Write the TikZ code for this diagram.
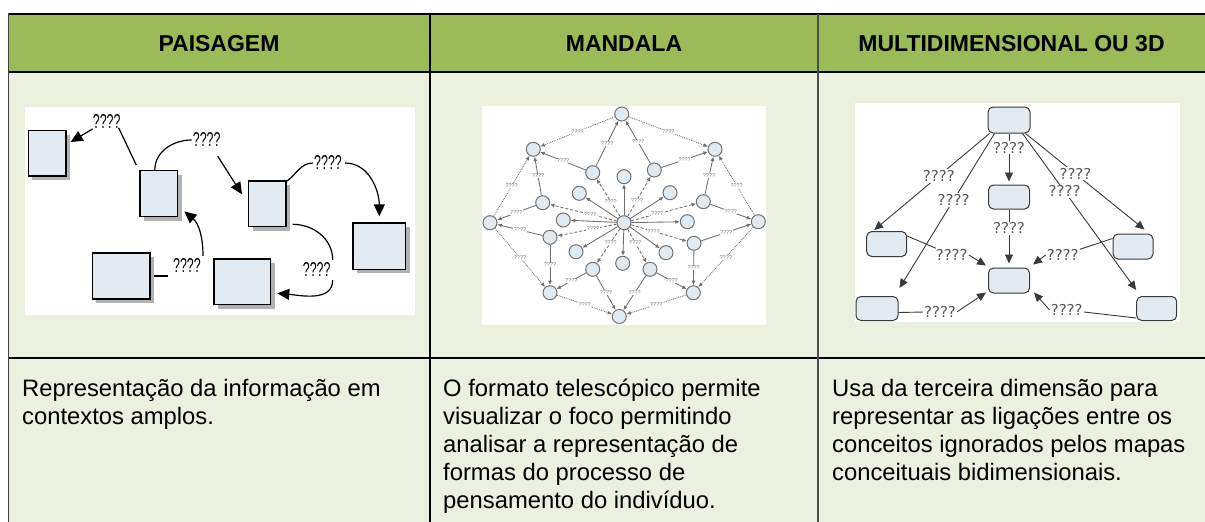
\documentclass[tikz,border=0pt]{standalone}
\usepackage{fontspec}
\setmainfont{Liberation Sans}
\newfontfamily\djv{DejaVu Sans}
\usetikzlibrary{arrows.meta,shadows}
\definecolor{hdrgreen}{HTML}{9BBB59}
\definecolor{cellgreen}{HTML}{EBF1DE}
\definecolor{boxblue}{HTML}{E3EBF2}
\definecolor{mandfill}{HTML}{E0EAF0}
\definecolor{mandline}{HTML}{6E6E6E}
\definecolor{dline}{HTML}{3A3A3A}
\begin{document}
\begin{tikzpicture}[x=1pt,y=-1pt,
  hdrtext/.style={font=\fontsize{23}{26}\selectfont\bfseries, inner sep=0pt},
  bodytext/.style={font=\fontsize{23.8}{27.9}\selectfont, anchor=north west, align=left, inner sep=0pt},
  pbox/.style={draw=black, line width=1.3pt, fill=boxblue, inner sep=0pt,
     drop shadow={shadow xshift=4pt, shadow yshift=-4pt, fill=black!30, opacity=1}},
  plab/.style={inner sep=1pt, font=\fontsize{20}{20}\selectfont},
  parrow/.style={-{Triangle[length=12pt,width=11pt]}, line width=1.2pt},
  pline/.style={line width=1.2pt},
  dbox/.style={draw=dline, line width=1pt, fill=boxblue, rounded corners=5pt, inner sep=0pt},
  dlab/.style={font=\djv\fontsize{15}{15}\selectfont, text=black!65, fill=white, inner sep=1pt},
  darrow/.style={-{Triangle[length=9pt,width=8pt]}, line width=0.9pt, draw=dline},
  dline/.style={line width=0.9pt, draw=dline},
  mnode/.style={circle, draw=black!55, fill=mandfill, line width=1pt, minimum size=14pt, inner sep=0pt},
  mlab/.style={font=\fontsize{5.5}{6}\selectfont, text=black!55, inner sep=0.5pt, fill=white},
  marrow/.style={-{Latex[length=4.5pt,width=4pt]}, draw=mandline, line width=0.85pt},
  mdash/.style={marrow, dashed, dash pattern=on 3pt off 2pt},
  mdot/.style={marrow, densely dotted}
]
\useasboundingbox (0,0) rectangle (1205,522);
\fill[white] (0,0) rectangle (1205,522);
% table
\fill[hdrgreen] (8,14) rectangle (1205,72);
\fill[cellgreen] (8,72) rectangle (1205,522);
\draw[line width=2pt] (8,14) -- (1205,14);
\draw[line width=2pt] (8,72) -- (1205,72);
\draw[line width=2pt] (8,358.3) -- (1205,358.3);
\draw[line width=1.5pt, black!75] (8.5,13) -- (8.5,522);
\draw[line width=1.5pt] (430,14) -- (430,522);
\draw[line width=1.5pt, black!70] (818,14) -- (818,522);
% headers
\node[hdrtext] (h1) at (219,43.5) {PAISAGEM};
\node[hdrtext] (h2) at (624,43.5) {MANDALA};
\node[hdrtext] (h3) at (1011.5,43.5) {MULTIDIMENSIONAL OU 3D};
% body texts
\node[bodytext] (t1) at (22,377.2) {\strut Representação da informação em\\contextos amplos.};
\node[bodytext] (t2) at (443,377.2) {\strut O formato telescópico permite\\visualizar o foco permitindo\\analisar a representação de\\formas do processo de\\pensamento do indivíduo.};
\node[bodytext] (t3) at (832,377.2) {\strut Usa da terceira dimensão para\\representar as ligações entre os\\conceitos ignorados pelos mapas\\conceituais bidimensionais.};

% ================= PAISAGEM =================
\fill[white] (25,107) rectangle (415,315);
\node[pbox, minimum width=37.7pt, minimum height=45.3pt] (p1) at (47.2,153.3) {};
\node[pbox, minimum width=37.7pt, minimum height=46pt] (p2) at (158.8,193.7) {};
\node[pbox, minimum width=37.3pt, minimum height=45.7pt] (p3) at (267.3,203.8) {};
\node[pbox, minimum width=52.7pt, minimum height=46.3pt] (p4) at (379.3,246.2) {};
\node[pbox, minimum width=57.7pt, minimum height=46pt] (p5) at (121.2,276) {};
\node[pbox, minimum width=56.7pt, minimum height=45.7pt] (p6) at (242.3,281.8) {};
\node[plab] (q1) at (106.7,121.7) {\scalebox{0.62}[1]{????}};
\node[plab] (q2) at (206.7,140) {\scalebox{0.62}[1]{????}};
\node[plab] (q3) at (328,163) {\scalebox{0.62}[1]{????}};
\node[plab] (q4) at (187,266) {\scalebox{0.62}[1]{????}};
\node[plab] (q5) at (316.7,270) {\scalebox{0.62}[1]{????}};
\coordinate (q4a) at (168,276);
\draw[pline] ([xshift=-3pt,yshift=5pt]p2.north west) -- ([xshift=-3pt,yshift=2pt]q1.south east);
\draw[parrow] ([xshift=1pt,yshift=1pt]q1.south west) -- ([xshift=4pt,yshift=-12pt]p1.north east);
\draw[pline] ([xshift=-4pt]p2.north) to[out=90,in=180] (q2.west);
\draw[parrow] ([xshift=-4pt,yshift=-8pt]q2.south east) -- ([xshift=-6pt,yshift=-14pt]p3.north west);
\draw[pline] ([yshift=-1pt]p3.north east) to[out=35,in=180] (q3.west);
\draw[parrow] ([xshift=2pt]q3.east) to[out=0,in=90] ([yshift=6pt]p4.north);
\draw[pline] ([xshift=3pt]p5.east) -- (q4a);
\draw[parrow] ([xshift=16pt,yshift=2pt]q4.north) to[out=90,in=-40] ([xshift=6pt,yshift=6pt]p2.south east);
\draw[pline] ([xshift=6pt,yshift=3pt]p3.south east) to[out=0,in=90] ([xshift=1pt,yshift=2pt]q5.north east);
\draw[parrow] ([xshift=1pt,yshift=-2pt]q5.south east) to[out=-90,in=-5] ([xshift=6pt,yshift=-11.5pt]p6.east);

% ================= MANDALA =================
\fill[white] (481.7,106) rectangle (766,325);
\node[mnode] (mC) at (624,222.7) {};
\node[mnode] (mT) at (621.7,114) {};
\node[mnode] (mB) at (619.3,316.5) {};
\node[mnode] (mL) at (490,222.7) {};
\node[mnode] (mR) at (758.3,221.7) {};
\node[mnode] (mTL) at (533.3,149.3) {};
\node[mnode] (mTR) at (715,149.3) {};
\node[mnode] (mBL) at (550,292.7) {};
\node[mnode] (mBR) at (693.3,292.7) {};
\node[mnode] (i1) at (592.7,172.7) {};
\node[mnode] (i2) at (654.3,170) {};
\node[mnode] (i3) at (542.7,202.7) {};
\node[mnode] (i4) at (703.3,201.7) {};
\node[mnode] (i5) at (550,237.3) {};
\node[mnode] (i6) at (694,243.3) {};
\node[mnode] (i7) at (592.7,269.3) {};
\node[mnode] (i8) at (650,269.3) {};
\node[mnode] (f1) at (624,176.7) {};
\node[mnode] (f2) at (579.3,193.3) {};
\node[mnode] (f3) at (670,192.7) {};
\node[mnode] (f4) at (563.3,220) {};
\node[mnode] (f5) at (687.3,221.7) {};
\node[mnode] (f6) at (576,251.7) {};
\node[mnode] (f7) at (666,252.7) {};
\node[mnode] (f8) at (622.7,263.3) {};
\foreach \n in {f1,f2,f3,f4,f5,f6,f7,f8}
  \draw[marrow] (mC) -- (\n);
\foreach \n in {i1,i2,i3,i4,i5,i6,i7,i8}
  \draw[mdash] (mC) -- node[mlab, pos=0.4]{????} (\n);
\foreach \a/\b in {i1/mT,i1/mTL,i2/mT,i2/mTR,i3/mTL,i3/mL,i4/mTR,i4/mR,i5/mL,i5/mBL,i6/mR,i6/mBR,i7/mBL,i7/mB,i8/mB,i8/mBR}
  \draw[marrow] (\a) -- node[mlab]{????} (\b);
\foreach \a/\b in {mT/mTL,mT/mTR,mL/mTL,mR/mTR,mL/mBL,mR/mBR,mBL/mB,mBR/mB}
  \draw[mdot] (\a) -- node[mlab]{????} (\b);

% ================= 3D =================
\fill[white] (855,103) rectangle (1180,322);
\node[dbox, minimum width=42pt, minimum height=26pt] (d1) at (1009,120) {};
\node[dbox, minimum width=41pt, minimum height=24pt] (d2) at (1009,197) {};
\node[dbox, minimum width=41pt, minimum height=25pt] (d3) at (1009,280.5) {};
\node[dbox, minimum width=40pt, minimum height=25pt] (d4) at (886.7,244) {};
\node[dbox, minimum width=40pt, minimum height=25pt] (d5) at (1133,246.5) {};
\node[dbox, minimum width=42pt, minimum height=24pt] (d6) at (877,308.5) {};
\node[dbox, minimum width=40pt, minimum height=24pt] (d7) at (1156.7,308.5) {};
\draw[darrow] ([xshift=2pt]d1.south west) -- node[dlab, pos=0.44]{????} ([xshift=8pt,yshift=1pt]d4.north west);
\draw[darrow] ([xshift=7pt]d1.south west) -- node[dlab, pos=0.43]{????} ([xshift=1pt,yshift=8pt]d6.north east);
\draw[darrow] (d1.south) -- node[dlab, pos=0.3]{????} ([yshift=3pt]d2.north);
\draw[darrow] ([xshift=-5pt]d1.south east) -- node[dlab, pos=0.42]{????} ([xshift=-9pt,yshift=4pt]d5.north east);
\draw[darrow] ([xshift=-8pt]d1.south east) -- node[dlab, pos=0.37]{????} ([yshift=6pt]d7.north west);
\draw[darrow] (d2.south) -- node[dlab, pos=0.35]{????} ([yshift=4pt]d3.north);
\node[dlab] (r1) at (951.7,255) {????};
\node[dlab] (r2) at (1062.7,255) {????};
\node[dlab] (r3) at (940,311.7) {????};
\node[dlab] (r4) at (1066.7,310) {????};
\draw[dline] ([yshift=-5pt]d4.north east) -- (r1);
\draw[darrow] (r1.east) -- ([xshift=-2pt,yshift=2pt]d3.north west);
\draw[dline] ([yshift=-5pt]d5.north west) -- (r2);
\draw[darrow] (r2.west) -- ([xshift=3pt,yshift=3pt]d3.north east);
\draw[dline] ([yshift=-4pt]d6.east) -- (r3);
\draw[darrow] (r3.east) -- ([xshift=-2pt,yshift=1pt]d3.south west);
\draw[dline] ([yshift=3pt]d7.south west) -- (r4);
\draw[darrow] (r4.west) -- ([xshift=4pt,yshift=1pt]d3.south east);
\end{tikzpicture}
\end{document}
